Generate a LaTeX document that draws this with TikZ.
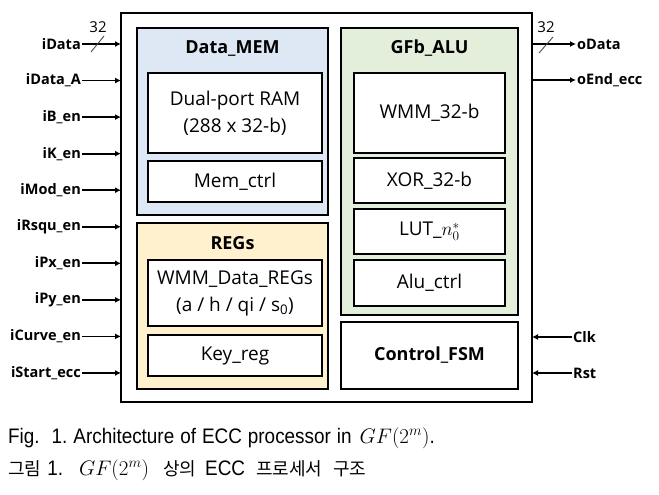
\RequirePackage{fix-cm}
\documentclass[tikz,border=0pt]{standalone}
\usepackage{fontspec}
\setmainfont{Open Sans}
\newfontfamily\capfont[FakeStretch=0.9]{Liberation Sans}
\newfontfamily\kofont{Noto Sans CJK KR}
\usetikzlibrary{arrows.meta,positioning}
\definecolor{softblue}{HTML}{DEE8F4}
\definecolor{softgreen}{HTML}{E3EFDB}
\definecolor{softgold}{HTML}{FFF1CE}
\tikzset{
  block/.style={draw=black,line width=2.2pt,align=center,inner sep=0pt,outer sep=0pt,
                font=\fontsize{19}{27}\selectfont},
  group/.style={block,line width=2.4pt,anchor=north west},
  unit/.style={block,fill=white,anchor=north west},
  port/.style={font=\bfseries\fontsize{14.5}{16}\selectfont,inner sep=1pt},
  wire/.style={-{Latex[length=6pt,width=6pt]},line width=1.8pt},
  buswidth/.style={draw=black!70,line width=0.9pt}
}

\begin{document}
\begin{tikzpicture}[
  x=1pt,y=-1pt,
  title/.style={font=\bfseries\fontsize{18}{20}\selectfont,inner sep=0pt},
  buslabel/.style={font=\fontsize{15}{16}\selectfont,inner sep=0pt},
  caption/.style={anchor=west,inner sep=0pt,font=\fontsize{21}{24}\selectfont}
]
  \useasboundingbox (0,0) rectangle (659,495);
  \node[block,fill=white,minimum width=411pt,minimum height=389pt] (chip) at (326.5,207.5) {};

  \node[group,fill=softblue,minimum width=191pt,minimum height=187pt] (datamem) at (137,28) {};
  \node[title] (memtitle) at (232.5,48) {Data\_MEM};
  \node[unit,minimum width=174pt,minimum height=80pt] (ram) at (148,73)
    {Dual-port RAM\\(288 x 32-b)};
  \node[unit,minimum width=174pt,minimum height=41pt] (memctrl) at (148,161) {Mem\_ctrl};

  \node[group,fill=softgold,minimum width=191pt,minimum height=166pt] (regs) at (137,223) {};
  \node[title] (regtitle) at (232.5,243) {REGs};
  \node[unit,minimum width=174pt,minimum height=66pt] (wmmregs) at (148,260)
    {WMM\_Data\_REGs\\(a / h / qi / s\textsubscript{0})};
  \node[unit,minimum width=174pt,minimum height=41pt] (keyreg) at (148,335) {Key\_reg};

  \node[group,fill=softgreen,minimum width=177pt,minimum height=287pt] (alu) at (341,28) {};
  \node[title] (alutitle) at (429.5,48) {GFb\_ALU};
  \node[unit,minimum width=151pt,minimum height=80pt] (wmm) at (354,73) {WMM\_32-b};
  \node[unit,minimum width=151pt,minimum height=45pt] (xor) at (354,158) {XOR\_32-b};
  \node[unit,minimum width=151pt,minimum height=45pt] (lut) at (354,209) {LUT\_$n_0^*$};
  \node[unit,minimum width=151pt,minimum height=46pt] (aluctrl) at (354,260) {Alu\_ctrl};

  \node[group,fill=white,minimum width=177pt,minimum height=67pt,
        font=\bfseries\fontsize{18}{20}\selectfont] (fsm) at (341,322) {Control\_FSM};

  \foreach \nm/\txt [count=\k from 0] in {idata/iData,idataa/iData\_A,iben/iB\_en,
      iken/iK\_en,imoden/iMod\_en,irsquen/iRsqu\_en,ipxen/iPx\_en,ipyen/iPy\_en,
      icurveen/iCurve\_en,istartecc/iStart\_ecc}
  {
    \node[port,anchor=east] (\nm) at (82,{44+36.55*\k}) {\txt};
    \draw[wire] (\nm.east) -- (\nm.east -| chip.west);
  }
  \draw[buswidth] ([shift={(9,8)}]idata.east) -- ([shift={(22,-8)}]idata.east);
  \node[buslabel] (dinwidth) at ([shift={(16,-17)}]idata.east) {32};

  \node[port,anchor=west] (odata) at (576,44) {oData};
  \node[port,anchor=west] (oendecc) at (576,80) {oEnd\_ecc};
  \foreach \nm in {odata,oendecc}
    \draw[wire] (\nm.west -| chip.east) -- (\nm.west);
  \draw[buswidth] ([shift={(-37,9)}]odata.west) -- ([shift={(-23,-7)}]odata.west);
  \node[buslabel] (doutwidth) at ([shift={(-30,-17)}]odata.west) {32};

  \node[port,anchor=west] (clk) at (572,337) {Clk};
  \node[port,anchor=west] (rst) at (572,373) {Rst};
  \foreach \nm in {clk,rst}
    \draw[wire] (\nm.west) -- (\nm.west -| chip.east);

  \node[caption] (capen) at (8,438)
    {\capfont Fig.\hspace{12pt}1.\hspace{6pt}Architecture\hspace{6pt}of\hspace{6pt}ECC\hspace{6pt}processor\hspace{6pt}in\hspace{8pt}$GF(2^m)$.};
  \node[caption] (capko) at (8,470)
    {{\kofont\fontsize{18}{20}\selectfont 그림}\hspace{6pt}\capfont 1.\hspace{16pt}$GF(2^m)$\hspace{14pt}%
     {\kofont\fontsize{18}{20}\selectfont 상의}\hspace{9pt}ECC\hspace{11pt}%
     {\kofont\fontsize{18}{20}\selectfont 프로세서}\hspace{11pt}{\kofont\fontsize{18}{20}\selectfont 구조}};
\end{tikzpicture}
\end{document}
